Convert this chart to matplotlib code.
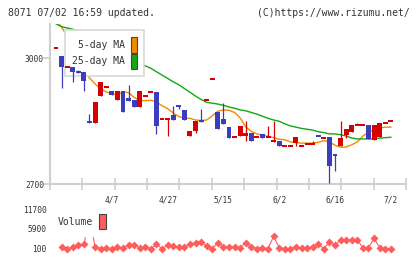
import matplotlib
matplotlib.use("Agg")
import matplotlib.pyplot as plt
from matplotlib.patches import Patch
import numpy as np

# Velas diarias: apertura, maximo, minimo, cierre
opens = [3024, 3005, 2979, 2980, 2969, 2968, 2849, 2846, 2909, 2932,
         2921, 2901, 2921, 2906, 2901, 2885, 2910, 2919, 2919, 2855,
         2855, 2865, 2889, 2877, 2816, 2827, 2851, 2900, 2951, 2871,
         2855, 2836, 2812, 2814, 2815, 2822, 2812, 2820, 2812, 2800,
         2804, 2792, 2792, 2798, 2790, 2795, 2795, 2816, 2810, 2812,
         2771, 2790, 2818, 2824, 2841, 2842, 2842, 2806, 2812, 2846,
         2851]
highs = [3024, 3005, 2979, 2980, 2971, 2968, 2868, 2895, 2944, 2932,
         2921, 2921, 2921, 2936, 2901, 2921, 2910, 2919, 2919, 2855,
         2855, 2887, 2889, 2877, 2826, 2851, 2879, 2900, 2951, 2871,
         2893, 2836, 2812, 2839, 2851, 2822, 2812, 2820, 2839, 2851,
         2804, 2792, 2792, 2813, 2794, 2799, 2802, 2816, 2810, 2812,
         2771, 2851, 2832, 2842, 2846, 2842, 2842, 2842, 2846, 2846,
         2851]
lows = [3024, 2929, 2979, 2944, 2966, 2922, 2847, 2846, 2909, 2932,
        2913, 2901, 2873, 2899, 2885, 2885, 2910, 2919, 2820, 2855,
        2814, 2853, 2879, 2852, 2816, 2823, 2849, 2900, 2951, 2832,
        2844, 2811, 2812, 2814, 2804, 2802, 2812, 2811, 2812, 2800,
        2790, 2792, 2792, 2792, 2790, 2795, 2795, 2815, 2810, 2702,
        2731, 2790, 2810, 2824, 2841, 2842, 2808, 2806, 2812, 2846,
        2851]
closes = [3024, 2979, 2979, 2968, 2967, 2945, 2847, 2895, 2944, 2932,
          2913, 2921, 2873, 2899, 2885, 2921, 2910, 2919, 2839, 2855,
          2855, 2853, 2884, 2852, 2826, 2851, 2849, 2900, 2951, 2832,
          2844, 2811, 2812, 2839, 2822, 2802, 2812, 2811, 2815, 2804,
          2790, 2792, 2792, 2813, 2794, 2799, 2799, 2815, 2810, 2744,
          2770, 2810, 2832, 2842, 2842, 2842, 2808, 2842, 2846, 2846,
          2851]

# Medias moviles
ma5 = [3090, 3074, 3053, 3024, 2996, 2972, 2953, 2939, 2927, 2920,
       2915, 2913, 2920, 2918, 2907, 2899, 2899, 2900, 2896, 2887,
       2880, 2870, 2861, 2858, 2857, 2853, 2852, 2853, 2863, 2874,
       2877, 2876, 2871, 2858, 2837, 2826, 2820, 2817, 2814, 2811,
       2807, 2806, 2801, 2799, 2798, 2798, 2798, 2800, 2804, 2801,
       2793, 2788, 2789, 2794, 2801, 2815, 2824, 2830, 2834, 2836,
       2836]
ma25 = [3082, 3075, 3072, 3069, 3065, 3058, 3051, 3043, 3036, 3029,
        3022, 3015, 3007, 3000, 2992, 2986, 2982, 2976, 2968, 2960,
        2952, 2944, 2937, 2928, 2919, 2910, 2902, 2895, 2893, 2891,
        2888, 2884, 2881, 2877, 2875, 2871, 2867, 2862, 2857, 2853,
        2850, 2844, 2839, 2836, 2833, 2831, 2829, 2825, 2823, 2820,
        2820, 2818, 2815, 2810, 2808, 2808, 2808, 2808, 2810, 2811,
        2812]

# Volumen (el primer dia no aparece)
volume = [np.nan, 600, 100, 500, 1100, 1300, 9500, 500, 100, 300,
          100, 500, 300, 1000, 1100, 300, 600, 100, 1300, 100,
          1000, 700, 500, 600, 1300, 1800, 2100, 800, 100, 1800,
          600, 600, 500, 300, 1800, 500, 100, 300, 100, 3700,
          300, 100, 100, 500, 300, 300, 600, 1300, 100, 2000,
          1100, 2600, 2600, 2600, 2600, 300, 300, 3100, 300, 100,
          100]

date_labels = ["4/7", "4/27", "5/15", "6/2", "6/16", "7/2"]

c_up = "#d50000"
c_down = "#3c3cbe"
c_ma5 = "#f08a00"
c_ma25 = "#11a811"
c_vol = "#ff5c5c"
c_axis = "#d0d0d0"
c_text = "#333333"

plt.rcParams['font.family'] = ['DejaVu Sans Mono']

n = len(opens)
x = np.arange(n)
xmin, xmax = -1.075, 62.72
label_idx = list(range(n - 1, -1, -10))[:len(date_labels)][::-1]

fig = plt.figure(figsize=(4.2, 2.59), dpi=100)

# Panel de volumen (primero, para que quede debajo de las etiquetas)
vax = fig.add_axes([50/420, 3/259, 356/420, 56/259])
vax.patch.set_visible(False)
vax.plot(x, volume, color=c_vol, lw=0.8, marker='D', ms=4.2, mec='none', zorder=2)
vax.set_xlim(xmin, xmax)
vax.set_ylim(-2120, 14456)
vax.set_yticks([100, 5900, 11700])
vax.set_xticks([])
vax.tick_params(axis='y', length=0, pad=2.6, labelsize=5.7, labelcolor=c_text)
for s in vax.spines.values():
    s.set_visible(False)
vleg = vax.legend([Patch(facecolor=c_vol, edgecolor='#444444', lw=0.8)], ['Volume'],
                  loc='center left', bbox_to_anchor=(50.6/420, 1 - 221.8/259),
                  bbox_transform=fig.transFigure, markerfirst=False,
                  handlelength=0.72, handleheight=1.95, handletextpad=0.62,
                  borderpad=0.75, borderaxespad=0, fancybox=False, framealpha=1,
                  edgecolor='white', prop={'size': 7})
vleg.set_zorder(5)
for t in vleg.get_texts():
    t.set_color(c_text)

ax = fig.add_axes([50/420, (259-184.3)/259, 356/420, 160.3/259])
ax.patch.set_visible(False)

# Medias moviles (por debajo de la leyenda)
ax.plot(x, ma5, color=c_ma5, lw=1, zorder=2)
ax.plot(x, ma25, color=c_ma25, lw=1, zorder=2)

# Velas
o = np.array(opens, float)
c = np.array(closes, float)
cols = [c_up if cc >= oo else c_down for oo, cc in zip(o, c)]
body = np.abs(c - o)
min_h = 4.75
mid = (o + c) / 2
bottoms = np.where(body < min_h, mid - min_h / 2, np.minimum(o, c))
heights = np.maximum(body, min_h)
ax.vlines(x, lows, highs, colors=cols, lw=0.9, zorder=6)
ax.bar(x, heights, bottom=bottoms, width=0.88, color=cols, lw=0, zorder=6)

ax.set_xlim(xmin, xmax)
ax.set_ylim(2700, 3081.5)
ax.spines['top'].set_visible(False)
ax.spines['right'].set_visible(False)
for s in ['left', 'bottom']:
    ax.spines[s].set_color(c_axis)
    ax.spines[s].set_linewidth(1.5)

ax.set_yticks([2700, 3000])
ax.tick_params(axis='y', direction='out', length=5, width=1.2, color=c_axis,
               labelsize=5.7, labelcolor=c_text, pad=-0.6)
ax.set_xticks(label_idx)
ax.set_xticklabels(date_labels)
ax.tick_params(axis='x', which='major', length=0, pad=8, labelsize=5.7,
               labelcolor=c_text)
ax.set_xticks(np.linspace(xmin, xmax, 12), minor=True)
ax.tick_params(axis='x', which='minor', direction='inout', length=8,
               width=1.2, color=c_axis)

handles = [Patch(facecolor=c_ma5, edgecolor='#444444', lw=0.8),
           Patch(facecolor=c_ma25, edgecolor='#444444', lw=0.8)]
leg = ax.legend(handles, ['5-day MA', '25-day MA'], loc='upper left',
                bbox_to_anchor=(65/420, 229/259), bbox_transform=fig.transFigure,
                markerfirst=False, handlelength=0.6, handleheight=2.06,
                handletextpad=0.6, labelspacing=0.1, borderpad=0.75,
                borderaxespad=0, fancybox=False, framealpha=1,
                edgecolor='#d8d8d8', prop={'size': 7})
leg.get_frame().set_linewidth(1.2)
leg.set_zorder(4)
for t in leg.get_texts():
    t.set_color(c_text)

fig.text(8/420, 1 - 12.7/259, "8071 07/02 16:59 updated.", fontsize=7,
         ha='left', va='center', color=c_text)
fig.text(410/420, 1 - 12.7/259, "(C)https://www.rizumu.net/", fontsize=7,
         ha='right', va='center', color=c_text)

fig.savefig("out.png", dpi=100)
